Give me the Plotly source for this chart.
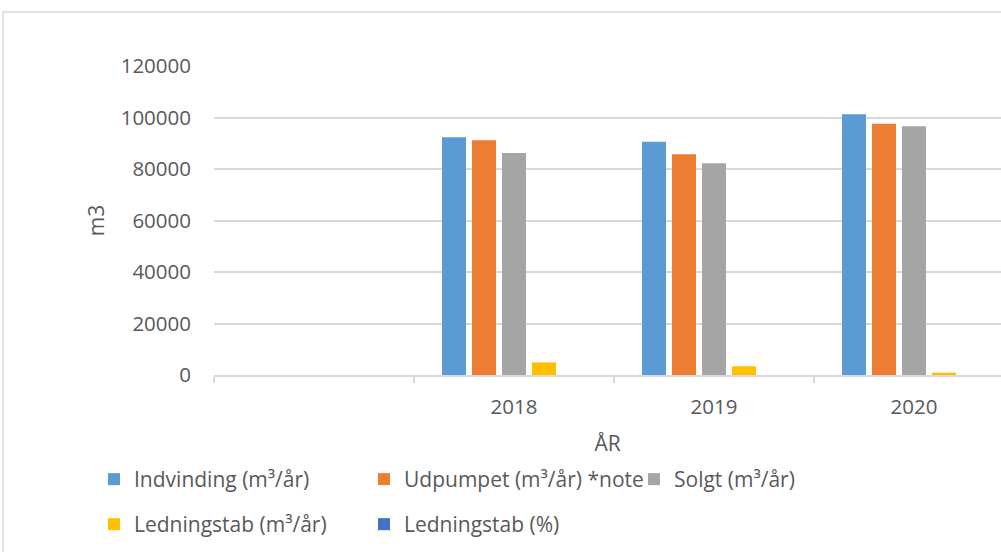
import plotly.graph_objects as go

categories = [" ", "2018", "2019", "2020"]
indvinding = [None, 92300, 90600, 101300]
udpumpet = [None, 91200, 85700, 97600]
solgt = [None, 86200, 82200, 96600]
ledningstab_m3 = [None, 4900, 3400, 900]
ledningstab_pct = [None, 0.053, 0.038, 0.009]

series_names = [
    "Indvinding (m³/år)",
    "Udpumpet (m³/år) *note",
    "Solgt (m³/år)",
    "Ledningstab (m³/år)",
    "Ledningstab (%)",
]
series_values = [indvinding, udpumpet, solgt, ledningstab_m3, ledningstab_pct]
colors = ["#5B9BD5", "#ED7D31", "#A5A5A5", "#FFC000", "#4472C4"]
legend_ids = ["legend", "legend", "legend", "legend2", "legend2"]

FONT = "Open Sans"
TXT = "#595959"
GRID = "#D9D9D9"

fig = go.Figure()
for name, vals, col, lg in zip(series_names, series_values, colors, legend_ids):
    fig.add_trace(go.Bar(x=categories, y=vals, name=name, marker_color=col,
                         marker_line_width=0, legend=lg))

W, H = 1001, 552
ml, mr, mt, mb = 214, 0, 66, 177
pw = W - ml - mr
ph = H - mt - mb
y0px = H - mb

legend_common = dict(orientation="h", xref="paper", yref="paper",
                     xanchor="left", yanchor="top",
                     entrywidth=225, entrywidthmode="pixels",
                     font=dict(size=21, color=TXT, family=FONT),
                     bgcolor="rgba(0,0,0,0)", traceorder="normal")

fig.update_layout(
    width=W, height=H,
    margin=dict(l=ml, r=mr, t=mt, b=mb, autoexpand=False),
    paper_bgcolor="white", plot_bgcolor="white",
    font=dict(family=FONT, color=TXT, size=20),
    barmode="group", bargap=0.25, bargroupgap=0.2,
    showlegend=True,
    legend=dict(legend_common, x=(94 - ml) / pw, y=(y0px - 459) / ph),
    legend2=dict(legend_common, x=(94 - ml) / pw, y=(y0px - 504) / ph),
    xaxis=dict(type="category", categoryorder="array", categoryarray=categories,
               range=[-0.5, -0.5 + pw / 200.0],
               showgrid=False, showline=True, linecolor=GRID, linewidth=1.5,
               ticks="outside", tickson="boundaries", ticklen=6, tickcolor=GRID,
               tickwidth=1.5, ticklabelstandoff=13,
               tickfont=dict(size=20.5, color=TXT, family=FONT),
               title=dict(text="ÅR", font=dict(size=21, color=TXT, family=FONT), standoff=17),
               fixedrange=True),
    yaxis=dict(range=[0, 120000], tickvals=[0, 20000, 40000, 60000, 80000, 100000, 120000],
               ticktext=["0", "20000", "40000", "60000", "80000", "100000", "120000"],
               showgrid=True, gridcolor=GRID, gridwidth=1.5, zeroline=False,
               showline=False, ticks="", ticklabelstandoff=22,
               tickfont=dict(size=20.5, color=TXT, family=FONT),
               title=dict(text="m3", font=dict(size=21, color=TXT, family=FONT), standoff=10),
               fixedrange=True),
    shapes=[dict(type="rect", xref="paper", yref="paper",
                 x0=(3 - ml) / pw, x1=1.2, y0=-2, y1=(y0px - 12) / ph,
                 line=dict(color=GRID, width=1.5), fillcolor="rgba(0,0,0,0)", layer="below")],
)

fig.write_html("out.html", config={"displayModeBar": False},
               post_script="document.body.style.margin='0';")
